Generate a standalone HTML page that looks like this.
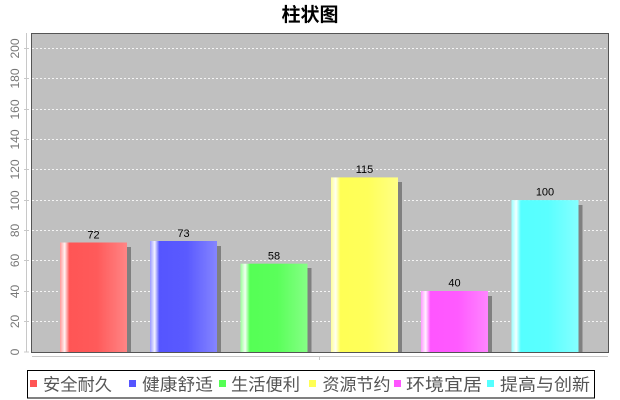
<!DOCTYPE html>
<html><head><meta charset="utf-8"><style>
html,body{margin:0;padding:0;background:#fff;}
svg{display:block;}
</style></head><body>
<svg width="620" height="400" xmlns="http://www.w3.org/2000/svg">
<defs>
<linearGradient id="gr" x1="0" x2="1" y1="0" y2="0"><stop offset="0" stop-color="#ff9a9a"/><stop offset="0.07" stop-color="#fff2f2"/><stop offset="0.14" stop-color="#ff5555"/><stop offset="0.55" stop-color="#ff5a5a"/><stop offset="1" stop-color="#ff8585"/></linearGradient>
<linearGradient id="gb" x1="0" x2="1" y1="0" y2="0"><stop offset="0" stop-color="#9a9aff"/><stop offset="0.07" stop-color="#f2f2ff"/><stop offset="0.14" stop-color="#5555ff"/><stop offset="0.55" stop-color="#5a5aff"/><stop offset="1" stop-color="#8585ff"/></linearGradient>
<linearGradient id="gg" x1="0" x2="1" y1="0" y2="0"><stop offset="0" stop-color="#9aff9a"/><stop offset="0.07" stop-color="#f2fff2"/><stop offset="0.14" stop-color="#55ff55"/><stop offset="0.55" stop-color="#5aff5a"/><stop offset="1" stop-color="#85ff85"/></linearGradient>
<linearGradient id="gy" x1="0" x2="1" y1="0" y2="0"><stop offset="0" stop-color="#ffff9a"/><stop offset="0.07" stop-color="#fffff2"/><stop offset="0.14" stop-color="#ffff55"/><stop offset="0.55" stop-color="#ffff5a"/><stop offset="1" stop-color="#ffff85"/></linearGradient>
<linearGradient id="gm" x1="0" x2="1" y1="0" y2="0"><stop offset="0" stop-color="#ff9aff"/><stop offset="0.07" stop-color="#fff2ff"/><stop offset="0.14" stop-color="#ff55ff"/><stop offset="0.55" stop-color="#ff5aff"/><stop offset="1" stop-color="#ff85ff"/></linearGradient>
<linearGradient id="gc" x1="0" x2="1" y1="0" y2="0"><stop offset="0" stop-color="#9affff"/><stop offset="0.07" stop-color="#f2ffff"/><stop offset="0.14" stop-color="#55ffff"/><stop offset="0.55" stop-color="#5affff"/><stop offset="1" stop-color="#85ffff"/></linearGradient>
</defs>
<text x="310" y="21" text-anchor="middle" font-family="'Liberation Sans','Noto Sans CJK SC',sans-serif" font-size="19" font-weight="bold" fill="#000">柱状图</text>
<!-- plot bg -->
<rect x="31.5" y="33.5" width="577" height="319" fill="#c0c0c0" stroke="#555" stroke-width="1"/>
<!-- gridlines -->
<g stroke="#f4f4f4" stroke-width="1" stroke-dasharray="2,2">
<line x1="32" x2="608" y1="321.5" y2="321.5"/>
<line x1="32" x2="608" y1="291.5" y2="291.5"/>
<line x1="32" x2="608" y1="260.5" y2="260.5"/>
<line x1="32" x2="608" y1="230.5" y2="230.5"/>
<line x1="32" x2="608" y1="200.5" y2="200.5"/>
<line x1="32" x2="608" y1="169.5" y2="169.5"/>
<line x1="32" x2="608" y1="139.5" y2="139.5"/>
<line x1="32" x2="608" y1="109.5" y2="109.5"/>
<line x1="32" x2="608" y1="78.5" y2="78.5"/>
<line x1="32" x2="608" y1="48.5" y2="48.5"/>
</g>
<!-- y axis -->
<line x1="26.5" x2="26.5" y1="33" y2="352" stroke="#c8c8c8"/>
<g stroke="#c8c8c8">
<line x1="24" x2="29" y1="352" y2="352"/><line x1="24" x2="29" y1="321.5" y2="321.5"/><line x1="24" x2="29" y1="291.5" y2="291.5"/><line x1="24" x2="29" y1="260.5" y2="260.5"/><line x1="24" x2="29" y1="230.5" y2="230.5"/><line x1="24" x2="29" y1="200.5" y2="200.5"/><line x1="24" x2="29" y1="169.5" y2="169.5"/><line x1="24" x2="29" y1="139.5" y2="139.5"/><line x1="24" x2="29" y1="109.5" y2="109.5"/><line x1="24" x2="29" y1="78.5" y2="78.5"/><line x1="24" x2="29" y1="48.5" y2="48.5"/>
</g>
<g font-family="'Liberation Sans',sans-serif" font-size="12" fill="#777" text-anchor="middle">
<text transform="translate(19,352) rotate(-90)">0</text>
<text transform="translate(19,321.5) rotate(-90)">20</text>
<text transform="translate(19,291.5) rotate(-90)">40</text>
<text transform="translate(19,260.5) rotate(-90)">60</text>
<text transform="translate(19,230.5) rotate(-90)">80</text>
<text transform="translate(19,200.5) rotate(-90)">100</text>
<text transform="translate(19,169.5) rotate(-90)">120</text>
<text transform="translate(19,139.5) rotate(-90)">140</text>
<text transform="translate(19,109.5) rotate(-90)">160</text>
<text transform="translate(19,78.5) rotate(-90)">180</text>
<text transform="translate(19,48.5) rotate(-90)">200</text>
</g>
<!-- x axis line -->
<line x1="32" x2="608" y1="356.5" y2="356.5" stroke="#c8c8c8"/>
<line x1="319.5" x2="319.5" y1="356" y2="360" stroke="#c8c8c8"/>
<!-- shadows -->
<g fill="#808080">
<rect x="64" y="247" width="67" height="105"/>
<rect x="154" y="246" width="67" height="106"/>
<rect x="244.5" y="268" width="67" height="84"/>
<rect x="335" y="182" width="67" height="170"/>
<rect x="425" y="296" width="67" height="56"/>
<rect x="515.5" y="205" width="67" height="147"/>
</g>
<!-- bars -->
<rect x="60" y="242.5" width="67" height="109.5" fill="url(#gr)"/>
<rect x="150" y="241" width="67" height="111" fill="url(#gb)"/>
<rect x="240.5" y="263.7" width="67" height="88.3" fill="url(#gg)"/>
<rect x="331" y="177.4" width="67" height="174.6" fill="url(#gy)"/>
<rect x="421" y="291" width="67" height="61" fill="url(#gm)"/>
<rect x="511.5" y="200.1" width="67" height="151.9" fill="url(#gc)"/>
<!-- value labels -->
<g font-family="'Liberation Sans',sans-serif" font-size="11" fill="#000" text-anchor="middle">
<text x="93.5" y="238.5">72</text>
<text x="183.5" y="237">73</text>
<text x="274" y="259.5">58</text>
<text x="364.5" y="173">115</text>
<text x="454.5" y="286.5">40</text>
<text x="545" y="195.5">100</text>
</g>
<!-- legend -->
<rect x="27.5" y="370.5" width="567" height="27.5" fill="#fff" stroke="#000" stroke-width="1"/>
<g>
<rect x="30" y="380" width="7" height="7" fill="#ff5555"/>
<rect x="129" y="380" width="7" height="7" fill="#5555ff"/>
<rect x="219" y="380" width="7" height="7" fill="#55ff55"/>
<rect x="309" y="380" width="7" height="7" fill="#ffff55"/>
<rect x="394" y="380" width="7" height="7" fill="#ff55ff"/>
<rect x="487" y="380" width="7" height="7" fill="#55ffff"/>
</g>
<g font-family="'Liberation Sans','Noto Sans CJK SC',sans-serif" font-size="17" fill="#555">
<text x="43" y="390.5" textLength="69" lengthAdjust="spacingAndGlyphs">安全耐久</text>
<text x="142" y="390.5" textLength="71" lengthAdjust="spacingAndGlyphs">健康舒适</text>
<text x="231" y="390.5" textLength="69" lengthAdjust="spacingAndGlyphs">生活便利</text>
<text x="322.5" y="390.5" textLength="68" lengthAdjust="spacingAndGlyphs">资源节约</text>
<text x="406" y="390.5" textLength="76" lengthAdjust="spacingAndGlyphs">环境宜居</text>
<text x="500" y="390.5" textLength="90" lengthAdjust="spacingAndGlyphs">提高与创新</text>
</g>
</svg>
</body></html>
